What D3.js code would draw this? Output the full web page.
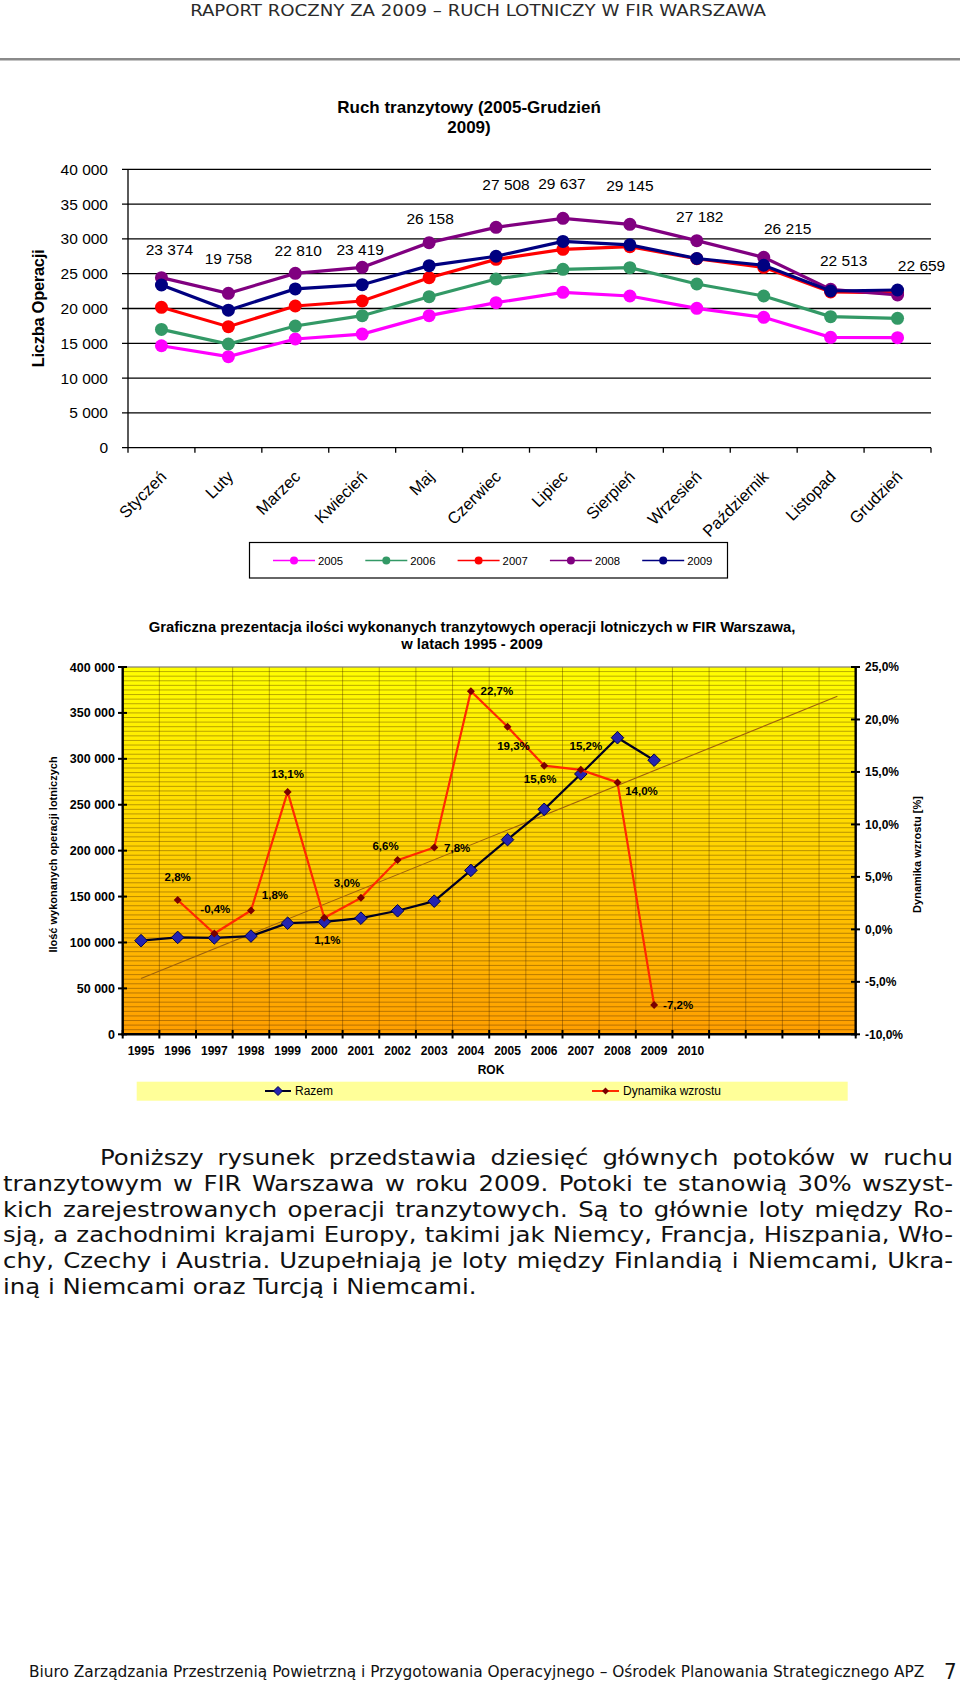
<!DOCTYPE html>
<html><head><meta charset="utf-8">
<script src="https://cdn.jsdelivr.net/npm/d3@7"></script>
<style>
html,body{margin:0;padding:0;background:#fff;}
svg{display:block;}
</style></head><body>
<svg id="page" width="960" height="1688"></svg>
<script>
// ---------------- DATA ----------------
const months = ["Styczeń","Luty","Marzec","Kwiecień","Maj","Czerwiec","Lipiec","Sierpień","Wrzesień","Październik","Listopad","Grudzień"];
const seriesNames = ["2005","2006","2007","2008","2009"];
const s2005 = [14650, 13080, 15620, 16330, 18970, 20840, 22320, 21800, 20020, 18730, 15860, 15810];
const s2006 = [17000, 14900, 17480, 18970, 21700, 24240, 25630, 25870, 23520, 21800, 18830, 18590];
const s2007 = [20170, 17390, 20360, 21080, 24430, 27060, 28500, 28880, 27150, 25910, 22370, 22250];
const s2008 = [24430, 22180, 25050, 25910, 29460, 31660, 32960, 32090, 29750, 27350, 22750, 21940];
const s2009 = [23374, 19758, 22810, 23419, 26158, 27508, 29637, 29145, 27182, 26215, 22513, 22659];
const yTicks1 = [0,5000,10000,15000,20000,25000,30000,35000,40000];

const yearLabels = ["1995","1996","1997","1998","1999","2000","2001","2002","2003","2004","2005","2006","2007","2008","2009","2010","","","",""];
const razem = [102000, 105500, 105000, 107000, 121000, 122500, 126500, 134500, 145000, 178500, 212000, 245000, 283500, 323000, 298500];
const dynamika = [null, 2.8, -0.4, 1.8, 13.1, 1.1, 3.0, 6.6, 7.8, 22.7, 19.3, 15.6, 15.2, 14.0, -7.2];
const yTicksL = [0,50000,100000,150000,200000,250000,300000,350000,400000];
const yTicksR = [-10,-5,0,5,10,15,20,25];
const trendEndIndex = 19;

// ---------------- LAYOUT (label nudges, px) ----------------
const lab1Off = [[8,-36],[0,-52],[3,-39],[-2,-35],[1,-47],[10,-72],[-1,-58],[0,-59],[3,-42],[24,-37],[13,-31],[24,-25]];
const dynOff = [null,[0,-23],[1,-25],[24,-16],[0,-18],[3,22],[-14,-15],[-12,-14],[23,0],[26,0],[6,19],[-4,13],[5,-24],[24,8],[24,0]];

const svg = d3.select("#page");
const ARIAL = "'Liberation Sans', Arial, sans-serif";
const COND = "'DejaVu Sans Condensed', 'DejaVu Sans', sans-serif";
const pl = d3.formatLocale({decimal: ",", thousands: " ", grouping: [3], currency: ["", ""], minus: "-"});
const fmtSpace = pl.format(",");
const fmtPct = d => pl.format(".1f")(d) + "%";

function fitX(sel, x, y, target){
  const w = sel.node().getComputedTextLength();
  sel.attr("x",0).attr("y",0).attr("transform",`translate(${x},${y}) scale(${target/w},1)`);
}

// ---------------- PAGE HEADER ----------------
const hdr = svg.append("text").attr("text-anchor","middle")
  .attr("font-family", COND).attr("font-size", 16.5).attr("fill","#2a2a2a")
  .text("RAPORT ROCZNY ZA 2009 – RUCH LOTNICZY W FIR WARSZAWA");
fitX(hdr, 478, 16, 576);
svg.append("rect").attr("x",0).attr("y",58).attr("width",960).attr("height",2.5).attr("fill","#8a8a8a");

// ---------------- CHART 1 ----------------
const c1 = svg.append("g");
c1.append("text").attr("x",469).attr("y",113).attr("text-anchor","middle")
  .attr("font-family",ARIAL).attr("font-weight","bold").attr("font-size",17)
  .text("Ruch tranzytowy (2005-Grudzień");
c1.append("text").attr("x",469).attr("y",133).attr("text-anchor","middle")
  .attr("font-family",ARIAL).attr("font-weight","bold").attr("font-size",17)
  .text("2009)");

const x1 = d3.scaleBand().domain(months).range([128, 931]);
const y1 = d3.scaleLinear().domain([0, 40000]).range([447.7, 169.3]);
const cx1 = m => x1(m) + x1.bandwidth()/2;

c1.append("g").selectAll("line").data(yTicks1).join("line")
  .attr("x1", 122).attr("x2", 931).attr("y1", d=>y1(d)).attr("y2", d=>y1(d))
  .attr("stroke","#000").attr("stroke-width",1.3);
c1.append("g").selectAll("text").data(yTicks1).join("text")
  .attr("x",108).attr("y",d=>y1(d)).attr("dy","0.36em").attr("text-anchor","end")
  .attr("font-family",ARIAL).attr("font-size",15.5).text(fmtSpace);
c1.append("line").attr("x1",128).attr("x2",128).attr("y1",y1(40000)).attr("y2",y1(0))
  .attr("stroke","#000").attr("stroke-width",1.3);
const bounds1 = d3.range(months.length+1).map(i => x1.range()[0] + i*x1.step());
c1.append("g").selectAll("line").data(bounds1).join("line")
  .attr("x1",d=>d).attr("x2",d=>d).attr("y1",y1(0)).attr("y2",y1(0)+5)
  .attr("stroke","#000").attr("stroke-width",1.3);
c1.append("g").selectAll("text").data(months).join("text")
  .attr("transform", m => `translate(${cx1(m)+6},${y1(0)+30}) rotate(-45)`)
  .attr("text-anchor","end").attr("font-family",ARIAL).attr("font-size",16.5).text(m=>m);
c1.append("text").attr("transform",`translate(44,${(y1(0)+y1(40000))/2}) rotate(-90)`)
  .attr("text-anchor","middle").attr("font-family",ARIAL).attr("font-weight","bold").attr("font-size",16.5)
  .attr("letter-spacing",-0.3).text("Liczba Operacji");

const seriesData = [s2005, s2006, s2007, s2008, s2009];
const colors1 = ["#FF00FF","#339966","#FF0000","#800080","#000080"];
const line1 = d3.line().x((d,i)=>cx1(months[i])).y(d=>y1(d));
seriesData.forEach((s, k) => {
  c1.append("path").attr("d", line1(s)).attr("fill","none").attr("stroke",colors1[k]).attr("stroke-width",3.2);
  c1.append("g").selectAll("circle").data(s).join("circle")
    .attr("cx",(d,i)=>cx1(months[i])).attr("cy",d=>y1(d)).attr("r",6.5).attr("fill",colors1[k]);
});
c1.append("g").selectAll("text").data(s2009).join("text")
  .attr("x",(d,i)=>cx1(months[i]) + lab1Off[i][0]).attr("y",(d,i)=>y1(d)+lab1Off[i][1]).attr("dy","0.36em")
  .attr("text-anchor","middle").attr("font-family",ARIAL).attr("font-size",15.5).text(fmtSpace);

const lg1 = c1.append("g");
lg1.append("rect").attr("x",249.5).attr("y",542.5).attr("width",478).attr("height",35.5)
  .attr("fill","#fff").attr("stroke","#000").attr("stroke-width",1.2);
seriesNames.forEach((n,k) => {
  const lx = 273 + k*92.3, ly = 560.5;
  lg1.append("line").attr("x1",lx).attr("x2",lx+42).attr("y1",ly).attr("y2",ly).attr("stroke",colors1[k]).attr("stroke-width",1.6);
  lg1.append("circle").attr("cx",lx+21).attr("cy",ly).attr("r",4).attr("fill",colors1[k]);
  lg1.append("text").attr("x",lx+45).attr("y",ly).attr("dy","0.36em").attr("font-family",ARIAL).attr("font-size",11.3).text(n);
});

// ---------------- CHART 2 ----------------
const c2 = svg.append("g");
c2.append("text").attr("x",472).attr("y",631.5).attr("text-anchor","middle")
  .attr("font-family",ARIAL).attr("font-weight","bold").attr("font-size",14.8)
  .text("Graficzna prezentacja ilości wykonanych tranzytowych operacji lotniczych w FIR Warszawa,");
c2.append("text").attr("x",472).attr("y",648.5).attr("text-anchor","middle")
  .attr("font-family",ARIAL).attr("font-weight","bold").attr("font-size",14.8)
  .text("w latach 1995 - 2009");

const x2 = d3.scaleBand().domain(d3.range(yearLabels.length)).range([122.7, 855.7]);
const cx2 = i => x2(i) + x2.bandwidth()/2;
const yL = d3.scaleLinear().domain([0,400000]).range([1034.3, 667]);
const yR = d3.scaleLinear().domain([-10,25]).range([1034.3, 667]);

const defs = svg.append("defs");
const grad = defs.append("linearGradient").attr("id","bg2").attr("x1",0).attr("x2",0).attr("y1",0).attr("y2",1);
grad.append("stop").attr("offset","0%").attr("stop-color","#FFFF00");
grad.append("stop").attr("offset","50%").attr("stop-color","#FFD200");
grad.append("stop").attr("offset","100%").attr("stop-color","#FF9E00");
c2.append("rect").attr("x",122.7).attr("y",667).attr("width",855.7-122.7).attr("height",1034.3-667).attr("fill","url(#bg2)");

c2.append("g").selectAll("line").data(d3.range(5000, 400001, 5000)).join("line")
  .attr("x1",122.7).attr("x2",855.7).attr("y1",d=>yL(d)).attr("y2",d=>yL(d))
  .attr("stroke","rgba(70,40,0,0.55)").attr("stroke-width",0.7);
const bounds2 = d3.range(yearLabels.length+1).map(i => x2.range()[0] + i*x2.step());
c2.append("g").selectAll("line").data(bounds2.slice(1,-1)).join("line")
  .attr("x1",d=>d).attr("x2",d=>d).attr("y1",667).attr("y2",1034.3)
  .attr("stroke","rgba(70,40,0,0.55)").attr("stroke-width",0.7);
c2.append("line").attr("x1",122.7).attr("x2",855.7).attr("y1",667).attr("y2",667).attr("stroke","#888").attr("stroke-width",1.2);

c2.append("line").attr("x1",122.7).attr("x2",122.7).attr("y1",667).attr("y2",1035.5).attr("stroke","#000").attr("stroke-width",2.4);
c2.append("line").attr("x1",855.7).attr("x2",855.7).attr("y1",667).attr("y2",1035.5).attr("stroke","#000").attr("stroke-width",2.4);
c2.append("line").attr("x1",121.5).attr("x2",857).attr("y1",1034.3).attr("y2",1034.3).attr("stroke","#000").attr("stroke-width",2.4);
c2.append("g").selectAll("line").data(yTicksL).join("line")
  .attr("x1",118).attr("x2",127).attr("y1",d=>yL(d)).attr("y2",d=>yL(d)).attr("stroke","#000").attr("stroke-width",2);
c2.append("g").selectAll("line").data(yTicksR).join("line")
  .attr("x1",851).attr("x2",860).attr("y1",d=>yR(d)).attr("y2",d=>yR(d)).attr("stroke","#000").attr("stroke-width",2);
c2.append("g").selectAll("line").data(bounds2).join("line")
  .attr("x1",d=>d).attr("x2",d=>d).attr("y1",1030).attr("y2",1038.5).attr("stroke","#000").attr("stroke-width",2);

c2.append("g").selectAll("text").data(yTicksL).join("text")
  .attr("x",115).attr("y",d=>yL(d)).attr("dy","0.36em").attr("text-anchor","end")
  .attr("font-family",ARIAL).attr("font-weight","bold").attr("font-size",12.5).text(fmtSpace);
c2.append("g").selectAll("text").data(yTicksR).join("text")
  .attr("x",865).attr("y",d=>yR(d)).attr("dy","0.36em")
  .attr("font-family",ARIAL).attr("font-weight","bold").attr("font-size",12).text(fmtPct);
c2.append("g").selectAll("text").data(yearLabels).join("text")
  .attr("x",(d,i)=>cx2(i)).attr("y",1051).attr("dy","0.36em").attr("text-anchor","middle")
  .attr("font-family",ARIAL).attr("font-weight","bold").attr("font-size",12).text(d=>d);
c2.append("text").attr("x",491).attr("y",1070).attr("dy","0.36em").attr("text-anchor","middle")
  .attr("font-family",ARIAL).attr("font-weight","bold").attr("font-size",12).text("ROK");
c2.append("text").attr("transform",`translate(53,854.5) rotate(-90)`).attr("dy","0.36em").attr("text-anchor","middle")
  .attr("font-family",ARIAL).attr("font-weight","bold").attr("font-size",11).text("Ilość wykonanych operacji lotniczych");
c2.append("text").attr("transform",`translate(917,854.5) rotate(-90)`).attr("dy","0.36em").attr("text-anchor","middle")
  .attr("font-family",ARIAL).attr("font-weight","bold").attr("font-size",11).text("Dynamika wzrostu [%]");

const xs = razem.map((d,i)=>i);
const mx = d3.mean(xs), my = d3.mean(razem);
const slope = d3.sum(xs.map((x,i)=>(x-mx)*(razem[i]-my))) / d3.sum(xs.map(x=>(x-mx)*(x-mx)));
const icpt = my - slope*mx;
c2.append("line").attr("x1",cx2(0)).attr("y1",yL(icpt)).attr("x2",cx2(trendEndIndex)).attr("y2",yL(icpt+slope*trendEndIndex))
  .attr("stroke","#A0620A").attr("stroke-width",1.1);

const diamond = r => `M0,${-r}L${r},0L0,${r}L${-r},0Z`;
c2.append("path").attr("d", d3.line().x((d,i)=>cx2(i)).y(d=>yL(d))(razem))
  .attr("fill","none").attr("stroke","#000022").attr("stroke-width",2.2);
c2.append("g").selectAll("path").data(razem).join("path")
  .attr("transform",(d,i)=>`translate(${cx2(i)},${yL(d)})`).attr("d",diamond(6.3))
  .attr("fill","#2424B0").attr("stroke","#000050").attr("stroke-width",1);
const dynPts = dynamika.map((d,i)=>({i, d})).filter(p => p.d !== null);
c2.append("path").attr("d", d3.line().x(p=>cx2(p.i)).y(p=>yR(p.d))(dynPts))
  .attr("fill","none").attr("stroke","#FF2A00").attr("stroke-width",2.2);
c2.append("g").selectAll("path").data(dynPts).join("path")
  .attr("transform",p=>`translate(${cx2(p.i)},${yR(p.d)})`).attr("d",diamond(4))
  .attr("fill","#7A0000");
c2.append("g").selectAll("text").data(dynPts).join("text")
  .attr("x",p=>cx2(p.i)+dynOff[p.i][0]).attr("y",p=>yR(p.d)+dynOff[p.i][1]).attr("dy","0.36em")
  .attr("text-anchor","middle").attr("font-family",ARIAL).attr("font-weight","bold").attr("font-size",11.5)
  .text(p=>fmtPct(p.d));

c2.append("rect").attr("x",136.7).attr("y",1081.7).attr("width",711).attr("height",19).attr("fill","#FFFF99");
c2.append("line").attr("x1",265).attr("x2",291).attr("y1",1091).attr("y2",1091).attr("stroke","#000022").attr("stroke-width",2);
c2.append("path").attr("transform","translate(278,1091)").attr("d",diamond(4.5)).attr("fill","#2424B0").attr("stroke","#000050");
c2.append("text").attr("x",295).attr("y",1091).attr("dy","0.36em").attr("font-family",ARIAL).attr("font-size",12).text("Razem");
c2.append("line").attr("x1",592).attr("x2",619).attr("y1",1091).attr("y2",1091).attr("stroke","#FF2A00").attr("stroke-width",2);
c2.append("path").attr("transform","translate(605.5,1091)").attr("d",diamond(3.5)).attr("fill","#7A0000");
c2.append("text").attr("x",623).attr("y",1091).attr("dy","0.36em").attr("font-family",ARIAL).attr("font-size",12).text("Dynamika wzrostu");

// ---------------- PARAGRAPH ----------------
const paraLines = [
  "Poniższy rysunek przedstawia dziesięć głównych potoków w ruchu",
  "tranzytowym w FIR Warszawa w roku 2009. Potoki te stanowią 30% wszyst-",
  "kich zarejestrowanych operacji tranzytowych. Są to głównie loty między Ro-",
  "sją, a zachodnimi krajami Europy, takimi jak Niemcy, Francja, Hiszpania, Wło-",
  "chy, Czechy i Austria. Uzupełniają je loty między Finlandią i Niemcami, Ukra-",
  "iną i Niemcami oraz Turcją i Niemcami."
];
const para = svg.append("g").attr("font-family",COND).attr("font-size",21.5).attr("fill","#111");
function measure(s){ const t = para.append("text").text(s); const w = t.node().getComputedTextLength(); t.remove(); return w; }
const spaceW = measure("x x") - measure("xx");
const natural = paraLines.slice(1,5).map(l => measure(l));
const sx = 946 / d3.max(natural);
const inner = para.append("g").attr("transform",`scale(${sx},1)`);
paraLines.forEach((ln, li) => {
  const y = 1165 + li*25.8;
  const x0 = (li === 0 ? 100 : 3)/sx, xEnd = 953/sx;
  const words = ln.split(" ");
  const ws = words.map(measure);
  const last = li === paraLines.length-1;
  const gap = last ? spaceW : (xEnd - x0 - d3.sum(ws)) / (words.length-1);
  const t = inner.append("text").attr("y", y);
  let x = x0;
  words.forEach((w,i) => { t.append("tspan").attr("x", x).text(w); x += ws[i] + gap; });
});

// ---------------- FOOTER ----------------
const ft = svg.append("text").attr("font-family",COND).attr("font-size",16).attr("fill","#111")
  .text("Biuro Zarządzania Przestrzenią Powietrzną i Przygotowania Operacyjnego – Ośrodek Planowania Strategicznego APZ");
fitX(ft, 29, 1677, 896);
svg.append("text").attr("x",944).attr("y",1679).attr("font-family",COND).attr("font-size",22).attr("fill","#111").text("7");
</script></body></html>
